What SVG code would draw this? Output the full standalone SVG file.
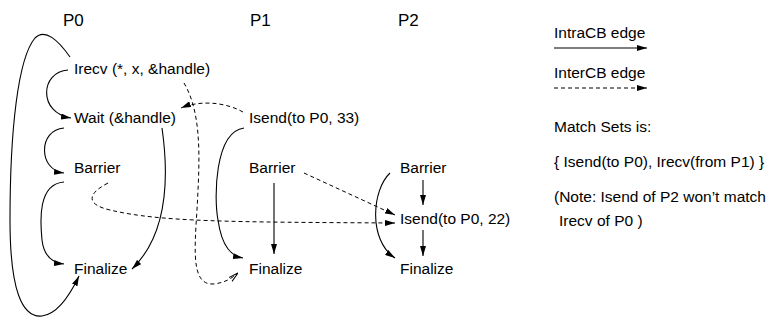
<svg xmlns="http://www.w3.org/2000/svg" width="774" height="320" viewBox="0 0 774 320">
<style>
text{font-family:"Liberation Sans",Arial,sans-serif;font-size:15.5px;fill:#000}
.h{font-size:17px}
.s{fill:none;stroke:#000;stroke-width:1.1}
.d{fill:none;stroke:#000;stroke-width:1;stroke-dasharray:4 3}
</style>
<defs>
<marker id="a" viewBox="0 0 10 6" refX="10" refY="3" markerWidth="10" markerHeight="6" markerUnits="userSpaceOnUse" orient="auto"><path d="M0,0 L10,3 L0,6 z" fill="#000"/></marker>
<marker id="o" viewBox="0 0 10 6" refX="10" refY="3" markerWidth="10" markerHeight="6" markerUnits="userSpaceOnUse" orient="auto"><path d="M0,0.5 L10,3 L0,5.5" fill="none" stroke="#000" stroke-width="1"/></marker>
</defs>
<g id="headers">
<text class="h" x="63" y="26">P0</text>
<text class="h" x="250" y="26">P1</text>
<text class="h" x="398" y="26">P2</text>
</g>
<g id="p0-irecv"><text x="74" y="74">Irecv (*, x, &amp;handle)</text></g>
<g id="p0-wait"><text x="74" y="123">Wait (&amp;handle)</text></g>
<g id="p0-barrier"><text x="74" y="173">Barrier</text></g>
<g id="p0-finalize"><text x="74" y="274">Finalize</text></g>
<g id="p1-isend"><text x="249" y="123">Isend(to P0, 33)</text></g>
<g id="p1-barrier"><text x="249" y="173">Barrier</text></g>
<g id="p1-finalize"><text x="249" y="274">Finalize</text></g>
<g id="p2-barrier"><text x="400" y="173">Barrier</text></g>
<g id="p2-isend"><text x="400" y="224">Isend(to P0, 22)</text></g>
<g id="p2-finalize"><text x="400" y="274">Finalize</text></g>
<g id="legend">
<text x="554" y="38">IntraCB edge</text>
<line class="s" x1="554" y1="48" x2="647" y2="48" marker-end="url(#a)"/>
<text x="554" y="78">InterCB edge</text>
<line class="d" x1="554" y1="88" x2="647" y2="88" marker-end="url(#a)"/>
<text x="554" y="132">Match Sets is:</text>
<text x="554" y="167">{ Isend(to P0), Irecv(from P1) }</text>
<text x="554" y="202">(Note: Isend of P2 won’t match</text>
<text x="559" y="226">Irecv of P0 )</text>
</g>
<g id="connectors">
<path class="s" d="M70,57 C58,40 45,28 35,38 C18,58 10,130 10,220 C10,290 22,318 42,316 C58,314 70,295 79,276" marker-end="url(#a)"/>
<path class="s" d="M68,70 C40,72 38,113 71,118" marker-end="url(#a)"/>
<path class="s" d="M64,128 C38,130 38,170 64,173" marker-end="url(#a)"/>
<path class="s" d="M64,182 C38,184 40,220 42,240 C44,257 54,263 64,264" marker-end="url(#a)"/>
<path class="s" d="M162,128 C168,170 170,232 132,269" marker-end="url(#a)"/>
<path class="s" d="M244,128 C214,132 214,200 218,220 C222,248 232,256 243,258" marker-end="url(#a)"/>
<line class="s" x1="274" y1="183" x2="274" y2="254" marker-end="url(#a)"/>
<line class="s" x1="423" y1="180" x2="423" y2="205" marker-end="url(#a)"/>
<line class="s" x1="423" y1="230" x2="423" y2="256" marker-end="url(#a)"/>
<path class="s" d="M390,173 C372,190 368,240 395,258" marker-end="url(#a)"/>
<path class="d" d="M243,112 C225,102 200,100 181,108" marker-end="url(#a)"/>
<path class="d" d="M184,83 C200,110 200,150 198,190 C196,240 188,285 213,284 C224,283 231,279 238,273" marker-end="url(#o)"/>
<path class="d" d="M108,183 C85,195 88,205 110,210 C160,222 230,222 395,223" marker-end="url(#a)"/>
<line class="d" x1="304" y1="173" x2="395" y2="215" marker-end="url(#a)"/>
</g>
</svg>
